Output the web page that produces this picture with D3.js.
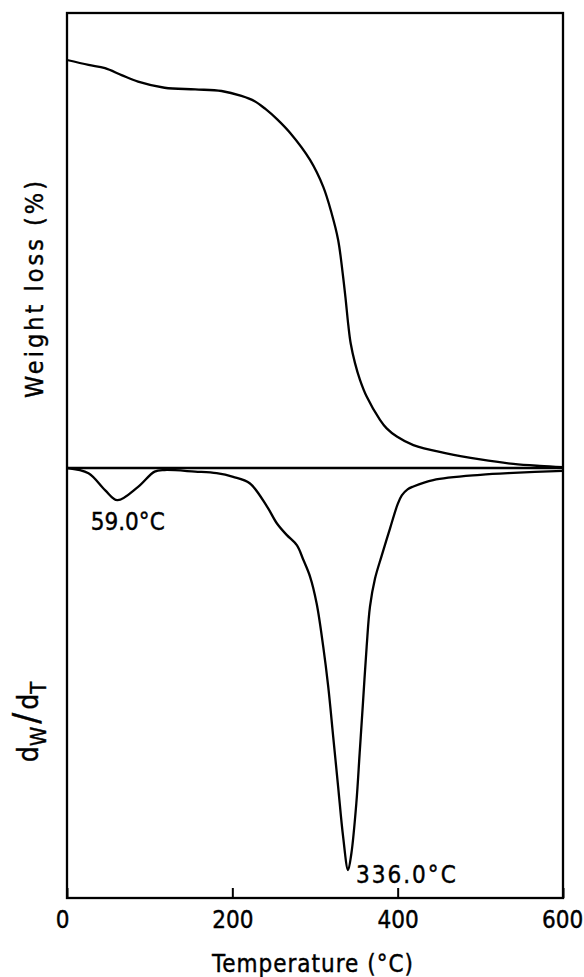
<!DOCTYPE html>
<html>
<head>
<meta charset="utf-8">
<title>TG / DTG</title>
<script src="https://cdn.jsdelivr.net/npm/d3@7"></script>
<style>
  body { margin: 0; background: #fff; }
  text { font-family: "DejaVu Sans Condensed", "DejaVu Sans", sans-serif; fill: #000; stroke: #000; stroke-width: 0.4; }
  .curve { fill: none; stroke: #000; stroke-width: 2.3; }
  .frame { fill: none; stroke: #000; stroke-width: 2.3; }
</style>
</head>
<body>
<div id="chart"></div>
<script>
// TG curve (weight, % of start)
var tgTemp   = [0, 26, 46, 66, 86, 118, 155, 187, 211, 227, 240, 254, 270, 294, 310, 320, 328, 333.5, 337, 340.3, 343.2, 348.4, 354.4, 362.5, 378.6, 386.7, 399, 419, 459, 500, 540, 572, 600];
var tgWeight = [100, 98.8, 98.0, 96.3, 94.7, 93.2, 92.8, 92.4, 91.2, 89.9, 88.0, 85.5, 82.1, 75.5, 68.9, 62.5, 55.9, 47.7, 41.5, 35.0, 30.5, 25.7, 21.6, 17.5, 11.8, 9.7, 7.7, 5.6, 3.6, 2.1, 1.0, 0.5, 0.2];

// DTG curve (relative rate, peak = -100)
var dtgTemp = [0, 26, 46, 61, 86, 106, 118, 155, 181, 201, 221, 242, 254, 266, 278, 286, 294, 302, 310, 316, 322, 328, 334, 340, 344, 350, 354, 358, 362.5, 366.5, 372.6, 380.7, 390.8, 400, 405, 412, 419, 443, 500, 540, 600];
var dtgRate = [0, -1.3, -5.5, -8.0, -4.7, -0.9, -0.5, -0.9, -1.3, -2.2, -3.8, -9.6, -13.8, -16.7, -19.2, -22.9, -27.0, -33.7, -44.5, -54.4, -66.8, -79.3, -91.7, -100, -95.9, -83.4, -71.0, -58.5, -44.4, -34.5, -27.5, -21.8, -15.0, -9.0, -6.8, -5.3, -4.6, -3.0, -1.7, -1.2, -0.7];

var xTicks = [0, 200, 400, 600];
var peakTemps = [59.0, 336.0];

var width = 584, height = 977;
var mLeft = 67, mRight = 563, mTop = 13, mMid = 468, mBottom = 898;

var svg = d3.select('#chart').append('svg')
    .attr('width', width)
    .attr('height', height);

var x = d3.scaleLinear().domain([0, 600]).range([mLeft, mRight]);
var yTg = d3.scaleLinear().domain([0, 100]).range([mMid, 60]);
var yDtg = d3.scaleLinear().domain([-100, 0]).range([870, mMid]);

// frame and split line
svg.append('rect').attr('class', 'frame')
    .attr('x', mLeft).attr('y', mTop)
    .attr('width', mRight - mLeft).attr('height', mBottom - mTop);
svg.append('line')
    .attr('x1', mLeft).attr('x2', mRight)
    .attr('y1', mMid).attr('y2', mMid)
    .attr('stroke', '#000').attr('stroke-width', 2.3);

var tgLine = d3.line()
    .x(function(d, i) { return x(tgTemp[i]); })
    .y(function(d) { return yTg(d); })
    .curve(d3.curveCatmullRom.alpha(0.5));
var dtgLine = d3.line()
    .x(function(d, i) { return x(dtgTemp[i]); })
    .y(function(d) { return yDtg(d); })
    .curve(d3.curveCatmullRom.alpha(0.5));

svg.append('path').attr('class', 'curve').attr('d', tgLine(tgWeight));
svg.append('path').attr('class', 'curve').attr('d', dtgLine(dtgRate));

// bottom axis, ticks pointing inward
var axis = d3.axisBottom(x)
    .tickValues(xTicks)
    .tickSizeInner(-10)
    .tickSizeOuter(0)
    .tickPadding(13)
    .tickFormat(d3.format('d'));
var gx = svg.append('g').attr('transform', 'translate(0,' + mBottom + ')').call(axis);
gx.select('.domain').remove();
gx.selectAll('line').attr('stroke', '#000').attr('stroke-width', 2);
gx.selectAll('text')
    .style('font-family', '"DejaVu Sans Condensed", "DejaVu Sans", sans-serif')
    .style('font-size', '24px')
    .attr('stroke', '#000').attr('stroke-width', 0.4)
    .attr('dx', function(d) { return d === 0 ? -5 : (d === 600 ? -1 : 0); });

// peak labels
svg.append('text')
    .attr('x', x(peakTemps[0]) + 12)
    .attr('y', yDtg(-8) + 30)
    .attr('text-anchor', 'middle')
    .style('font-size', '24px')
    .text(peakTemps[0].toFixed(1) + '°C');
svg.append('text')
    .attr('x', x(340) + 8)
    .attr('y', yDtg(-100) + 13)
    .attr('letter-spacing', 2)
    .style('font-size', '24px')
    .text(peakTemps[1].toFixed(1) + '°C');

// axis titles
svg.append('text')
    .attr('x', (mLeft + mRight) / 2 - 2)
    .attr('y', 972)
    .attr('text-anchor', 'middle')
    .attr('letter-spacing', 1)
    .style('font-size', '24px')
    .text('Temperature (°C)');

svg.append('text')
    .attr('transform', 'translate(43,288) rotate(-90)')
    .attr('text-anchor', 'middle')
    .attr('letter-spacing', 3)
    .style('font-size', '25px')
    .text('Weight loss (%)');

var dl = svg.append('text')
    .attr('transform', 'translate(38,722) rotate(-90)')
    .attr('text-anchor', 'middle')
    .style('font-size', '28px');
dl.append('tspan').text('d');
dl.append('tspan').attr('dy', 8).style('font-size', '22px').text('W');
dl.append('tspan').attr('dy', -8).attr('dx', 3).style('font-size', '36px').text('/');
dl.append('tspan').attr('dx', 3).text('d');
dl.append('tspan').attr('dy', 8).style('font-size', '22px').text('T');
</script>
</body>
</html>
